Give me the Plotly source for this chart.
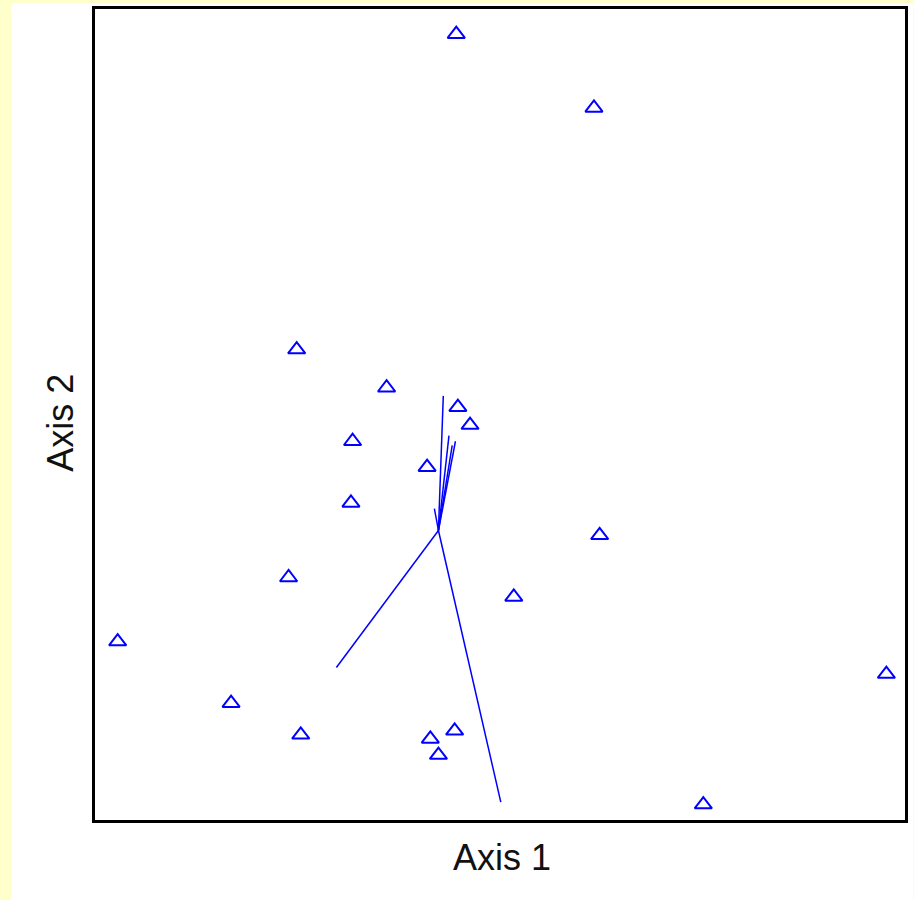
import plotly.graph_objects as go

# Site scores on the two ordination axes
site_x = [44.6, 61.6, 24.9, 36.0, 44.8, 46.3, 31.8, 41.0, 31.6, 62.3,
          23.9, 51.7, 2.8, 97.7, 16.8, 25.4, 44.4, 41.4, 42.4, 75.1]
site_y = [96.9, 87.8, 58.0, 53.3, 50.9, 48.7, 46.7, 43.5, 39.1, 35.1,
          29.9, 27.5, 22.0, 18.0, 14.4, 10.5, 11.0, 10.0, 8.0, 1.9]

# Joint-plot vectors, drawn from a common origin
origin_x, origin_y = 42.4, 35.7
vec_x = [43.0, 43.7, 44.5, 44.1, 41.9, 29.8, 50.1]
vec_y = [52.3, 47.4, 46.7, 46.2, 38.4, 18.8, 2.2]

axis_titles = ["Axis 1", "Axis 2"]

BLUE = "#0000FF"
fig = go.Figure()

for vx, vy in zip(vec_x, vec_y):
    fig.add_trace(go.Scatter(
        x=[origin_x, vx], y=[origin_y, vy], mode="lines",
        line=dict(color=BLUE, width=1.5), hoverinfo="skip", showlegend=False,
    ))

fig.add_trace(go.Scatter(
    x=site_x, y=site_y, mode="markers",
    marker=dict(symbol="triangle-up-open", size=15, color=BLUE,
                line=dict(color=BLUE, width=2)),
    showlegend=False,
))

axis_style = dict(range=[0, 100], showgrid=False, zeroline=False,
                  showticklabels=False, ticks="", showline=True, mirror=True,
                  linewidth=3, linecolor="black")

fig.update_layout(
    width=914, height=900,
    margin=dict(l=95, r=6, t=8, b=80),
    paper_bgcolor="#FFFFCC",
    plot_bgcolor="white",
    xaxis=axis_style,
    yaxis=axis_style,
    shapes=[dict(type="rect", xref="paper", yref="paper", layer="below",
                 x0=-0.1033, x1=1.01, y0=-0.11, y1=1.0074,
                 fillcolor="white", line=dict(width=0))],
    annotations=[
        dict(text=axis_titles[0], xref="paper", yref="paper", x=0.502, y=-0.0468,
             xanchor="center", yanchor="middle", showarrow=False,
             font=dict(family="Liberation Sans, Arial", size=36, color="#111111")),
        dict(text=axis_titles[1], xref="paper", yref="paper", x=-0.043, y=0.49,
             xanchor="center", yanchor="middle", showarrow=False, textangle=-90,
             font=dict(family="Liberation Sans, Arial", size=36, color="#111111")),
    ],
)

fig.write_html("out.html")
